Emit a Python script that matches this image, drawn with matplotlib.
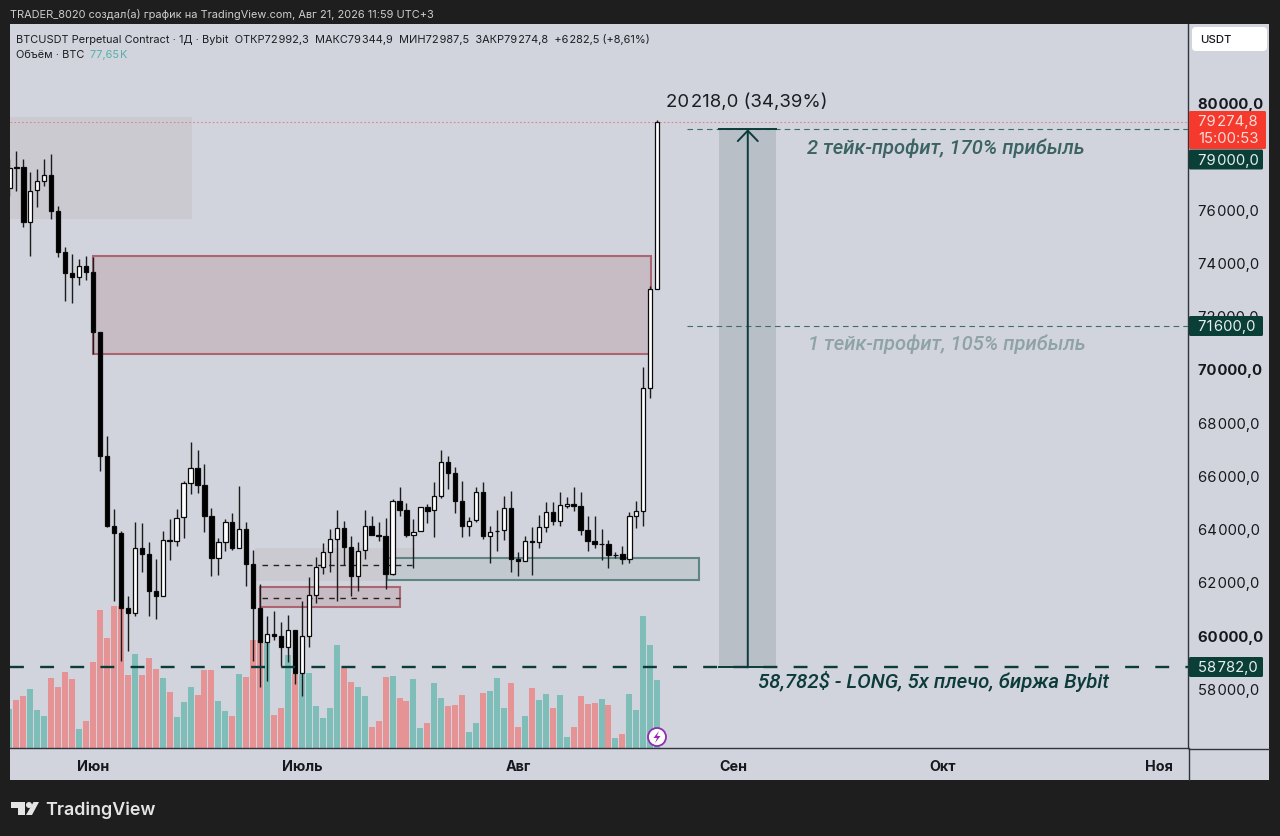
import matplotlib
matplotlib.use("Agg")
import matplotlib.pyplot as plt
from matplotlib.patches import Rectangle, FancyBboxPatch, Polygon, Circle

plt.rcParams['font.family'] = ['Inter', 'DejaVu Sans']
plt.rcParams['lines.scale_dashes'] = False

# ---------- data ----------
day = list(range(-12, 82))  # days relative to 1 June
opens = [76790,77579,77579,75514,76715,77055,77280,75928,74388,73600,73450,73863,
 73637,71382,66725,64096,63833,61016,60828,63270,63044,61655,61466,63570,63532,64433,
 65709,66274,65634,64470,62893,63495,64246,63270,63984,62667,61016,59740,60039,59964,
 59550,60190,58575,59964,61504,62555,63119,63607,64021,63307,62217,63194,64096,63757,
 63719,62292,65035,64697,63757,63908,64808,64697,65222,66500,66087,65035,64096,64322,
 65372,63719,63908,63945,64771,62855,62780,63532,63495,64058,64621,64284,64846,64921,
 64846,63945,63532,63419,63419,63006,63044,62855,64470,64659,69280,72992.3]
highs = [77880,78180,77880,77390,77505,77880,78070,76115,74575,74312,74125,74237,
 74200,71382,67477,64734,63908,61466,64246,64208,63495,62855,63908,64358,64734,65785,
 67252,66950,66425,64771,63645,64358,64584,65598,64246,63194,61917,60715,60903,60490,
 60753,60190,61279,62180,62930,63457,63984,64697,64284,63719,63495,64697,64470,64246,
 64397,65110,65560,64958,64358,64808,64921,65748,66950,66725,66311,65785,64433,65560,
 65748,64096,64697,65222,65410,63119,63719,64058,64509,64997,64997,65372,65185,65560,
 65372,64470,64470,63984,63570,63119,63345,64621,65035,70067,73100,79344.9]
lows = [76490,76677,75326,74237,76078,76867,75627,74200,72548,72473,73149,73337,
 70556,66162,64058,61279,59025,59401,60715,62368,60715,60603,61466,62818,63345,63645,
 65297,65335,63870,62217,62255,63157,63194,63270,61842,59025,58048,58274,59814,58837,
 58988,58161,57710,59550,61204,62292,62368,61279,62630,61466,61655,62855,63757,63532,
 61730,62255,64470,63682,62518,63908,64208,63682,65148,65486,64584,63682,63719,64246,
 63607,62705,63157,63570,62368,62217,62780,62255,63270,63870,64133,64096,64771,64659,
 63757,63157,63270,62818,62518,62893,62667,62705,64021,64096,68905,72987.5]
closes = [77542,77542,75514,76677,77055,77280,75928,74388,73600,73450,73863,73637,
 71382,66725,64096,63833,61016,60828,63270,63044,61655,61466,63570,63532,64397,65709,
 66274,65634,64470,62893,63495,64246,63270,63984,62667,61016,59740,60039,59964,59550,
 60190,58575,59964,61504,62555,63119,63607,64021,63307,62217,63157,64096,63757,63719,
 62292,65035,64697,63757,63870,64808,64659,65222,66500,66087,65035,64096,64284,65372,
 63719,63870,63918,64771,62855,62780,63532,63495,64058,64621,64284,64883,64921,64846,
 63945,63532,63419,63426,63006,63015,62855,64470,64659,69280,72992,79274.8]
volumes = [44.5,54.8,59.8,67.4,43.4,36.9,79.5,70.0,86.4,78.8,21.7,31.2,
 98.6,157.2,126.0,161.8,161.8,83.7,107.3,83.7,102.4,90.2,80.3,63.6,35.4,52.9,
 69.3,60.5,89.1,89.4,53.3,42.6,36.9,84.1,81.1,122.9,123.7,121.0,37.7,45.3,
 106.2,84.5,84.5,85.6,48.3,34.3,45.3,117.6,92.9,75.0,70.0,59.4,23.6,31.2,
 81.1,81.8,57.1,53.3,78.8,22.5,28.5,74.2,57.1,47.6,49.1,60.9,17.9,28.5,
 62.8,65.5,79.9,45.3,73.8,23.6,36.9,68.1,55.2,62.0,45.3,60.9,12.2,24.4,
 59.8,50.2,51.4,55.9,49.5,11.0,15.6,61.7,43.4,151.1,117.6,77.65]

price_ticks = [58000,60000,62000,64000,66000,68000,70000,72000,74000,76000,80000]
month_days = [0, 30, 61, 92, 122, 153]
month_labels = ['Июн', 'Июль', 'Авг', 'Сен', 'Окт', 'Ноя']

entry_price = 58782
tp1_price = 71600
tp2_price = 79000
last_price = 79274.8

SP = '\u200a'
header1 = f'BTCUSDT Perpetual Contract · 1Д · Bybit  ОТКР72{SP}992,3  МАКС79{SP}344,9  МИН72{SP}987,5  ЗАКР79{SP}274,8  +6{SP}282,5 (+8,61%)'
credit = 'TRADER_8020 создал(а) график на TradingView.com, Авг 21, 2026 11:59 UTC+3'

# ---------- colours ----------
PANEL = '#d1d4dc'
DARK = '#1e1e1e'
TEAL = '#7fbdb9'
RED = '#e69395'
DEEP = '#0c3b3a'
LINE = '#30343c'

W, H = 1280, 837
fig = plt.figure(figsize=(12.8, 8.37), dpi=100, facecolor=DARK)
pos = [10/W, 1-749/H, 1178/W, 724/H]
XLIM = (-11.92, 157.2)
YLIM = (55757, 82955)

fig.add_artist(Rectangle((10/W, 1-781/H), 1259/W, 756/H, transform=fig.transFigure,
                         fc=PANEL, ec='none', zorder=0))

# volume pane
axv = fig.add_axes(pos, zorder=1, facecolor='none')
axv.set_xlim(XLIM); axv.set_ylim(0, 826)
axv.axis('off')
axv.bar(day, volumes, width=0.86,
        color=[TEAL if c >= o else RED for o, c in zip(opens, closes)], linewidth=0)

# price pane
ax = fig.add_axes(pos, zorder=2, facecolor='none')
ax.set_xlim(XLIM); ax.set_ylim(YLIM)

# drawings beneath the candles
ax.add_patch(Rectangle((-12, 75630), 26.2, 79461-75630, fc='#c8bec4', alpha=0.45, ec='none', zorder=1))
ax.add_patch(Rectangle((23.2, 62031), 23, 63271-62031, fc='#c8bec4', alpha=0.45, ec='none', zorder=1))
ax.add_patch(Rectangle((42.2, 62068), 44.8, 62895-62068, fc='#c3cacf', ec='#5f8484', lw=1.5, zorder=1.2))
ax.add_patch(Rectangle((0, 70558), 80.1, 74240-70558, fc='#c8bcc4', ec='#ad6571', lw=1.5, zorder=1.2))
ax.add_patch(Rectangle((24, 61054), 20.1, 61805-61054, fc='#c8bcc4', ec='#ad6571', lw=1.5, zorder=1.2))
ax.plot([24.3, 46], [62632, 62632], color='#222', lw=1, dashes=(4, 4), zorder=1.5)
ax.plot([24.3, 44], [61392, 61392], color='#222', lw=1, dashes=(4, 4), zorder=1.5)
ax.add_patch(Rectangle((89.9, entry_price), 8.2, tp2_price-entry_price, fc='#b8bfc6', ec='none', zorder=1.2))

# candles
ax.vlines(day, lows, highs, color='#1c1c1c', lw=1.0, zorder=2)
ax.bar(day, [abs(c-o) for o, c in zip(opens, closes)], bottom=[min(o, c) for o, c in zip(opens, closes)],
       width=0.62, color=['white' if c > o else 'black' for o, c in zip(opens, closes)],
       edgecolor='#0a0a0a', linewidth=0.9, zorder=3)

# horizontal levels
ax.axhline(last_price, color='#d9868c', lw=0.8, dashes=(1.2, 1.6), zorder=2)
ax.plot([0, 1], [entry_price]*2, transform=ax.get_yaxis_transform(), color=DEEP, lw=1.7, dashes=(10, 11.7), zorder=4)
ax.plot([85.3, 157.2], [tp1_price]*2, color='#3f6b6b', lw=0.8, dashes=(4, 3), zorder=4)
ax.plot([85.3, 157.2], [tp2_price]*2, color='#3f6b6b', lw=0.8, dashes=(4, 3), zorder=4)
ax.plot([89.9, 98.1], [tp2_price]*2, color=DEEP, lw=1.4, zorder=4)
ax.plot([89.9, 98.1], [entry_price]*2, color=DEEP, lw=1.4, zorder=4)
ax.annotate('', xy=(94, tp2_price), xytext=(94, entry_price),
            arrowprops=dict(arrowstyle='->,head_length=0.75,head_width=0.72', color=DEEP, lw=1.4,
                            shrinkA=0, shrinkB=0), zorder=5)

# axes
for s in ('top', 'left'):
    ax.spines[s].set_visible(False)
for s in ('bottom', 'right'):
    ax.spines[s].set_color(LINE); ax.spines[s].set_linewidth(1.0)
ax.yaxis.tick_right()
ax.set_yticks(price_ticks)
labels = ax.set_yticklabels([f'{p//1000}{SP}{p%1000:03d},0' for p in price_ticks], fontsize=10.7,
                            color='#16181d', ha='left')
for p, lab in zip(price_ticks, labels):
    lab.set_fontweight('bold' if p % 10000 == 0 else 'regular')
ax.tick_params(axis='y', length=0, pad=7)
ax.set_xticks(month_days)
ax.set_xticklabels(month_labels, fontsize=10.3, fontweight='bold', color='#16181d')
ax.tick_params(axis='x', length=0, pad=8)

# overlay in pixels for interface elements and notes
ov = fig.add_axes([0, 0, 1, 1], zorder=5, facecolor='none')
ov.set_xlim(0, W); ov.set_ylim(H, 0); ov.axis('off')
ov.plot([1188.5, 1188.5], [749, 781], color=LINE, lw=1)
ov.plot([1188.5, 1269], [749.5, 749.5], color=LINE, lw=1)

def box(x0, y0, x1, y1, color, rad=1.5):
    ov.add_patch(FancyBboxPatch((x0+rad, y0+rad), x1-x0-2*rad, y1-y0-2*rad,
                                boxstyle=f'round,pad={rad},rounding_size={rad}', fc=color, ec='none'))

box(1192, 28, 1267, 52, 'white', 4)
ov.text(1200, 40, 'USDT', fontsize=8.2, color='#16181d', fontweight='medium', va='center')
box(1189, 112, 1266, 150, '#f5392d')
ov.text(1198, 122, f'79{SP}274,8', fontsize=10.7, color='#fbdcd8', va='center')
ov.text(1198, 139, '15:00:53', fontsize=10.7, color='#fbdcd8', va='center')
for y, t in [(160.5, f'79{SP}000,0'), (327, f'71{SP}600,0'), (668, f'58{SP}782,0')]:
    box(1189, y-10, 1263, y+10, '#0a3f38')
    ov.text(1198, y, t, fontsize=10.7, color='#e8eeee', va='center')

ov.text(10, 14, credit, fontsize=7.9, color='#cfcfcf', va='center')
ov.text(16, 39, header1, fontsize=7.9, color='#1b1d22', va='center')
ov.text(16, 55, 'Объём · BTC', fontsize=7.9, color='#1b1d22', va='center')
ov.text(90, 55, f'77,65{SP}K', fontsize=7.9, color='#58b0a8', va='center')

ov.text(747, 102, f'20{SP}218,0 (34,39%)', fontsize=13.4, color='#1b1d22', ha='center', va='center')
note = dict(family=['Roboto', 'DejaVu Sans'], style='italic', fontweight='medium', va='center')
ov.text(807, 148, '2 тейк-профит, 170% прибыль', fontsize=14.5, color='#3b6362', **note)
ov.text(808, 344, '1 тейк-профит, 105% прибыль', fontsize=14.5, color='#8ea3a5', **note)
ov.text(758, 682, '58,782$ - LONG, 5х плечо, биржа Bybit', fontsize=14.7, color=DEEP, **note)

# lightning badge
ov.add_patch(Circle((657, 738), 9, fc='white', ec='#8e2fb0', lw=1.3))
ov.add_patch(Polygon([(659, 732), (653.5, 739), (657, 739), (655, 744), (660.5, 737), (657, 737)], fc='#9c27b0', ec='none'))

# logo and brand
LOGO = '#e4e4e4'
ov.add_patch(Polygon([(11, 803), (25, 803), (25, 816), (18, 816), (18, 809), (11, 809)], fc=LOGO, ec='none'))
ov.add_patch(Circle((29, 806), 3, fc=LOGO, ec='none'))
ov.add_patch(Polygon([(33.5, 803), (39, 803), (32, 816), (26, 816)], fc=LOGO, ec='none'))
ov.text(45.5, 810, 'TradingView', fontsize=12.9, color=LOGO, fontweight='semibold', va='center')

fig.savefig('out.png', dpi=100, facecolor=DARK)
